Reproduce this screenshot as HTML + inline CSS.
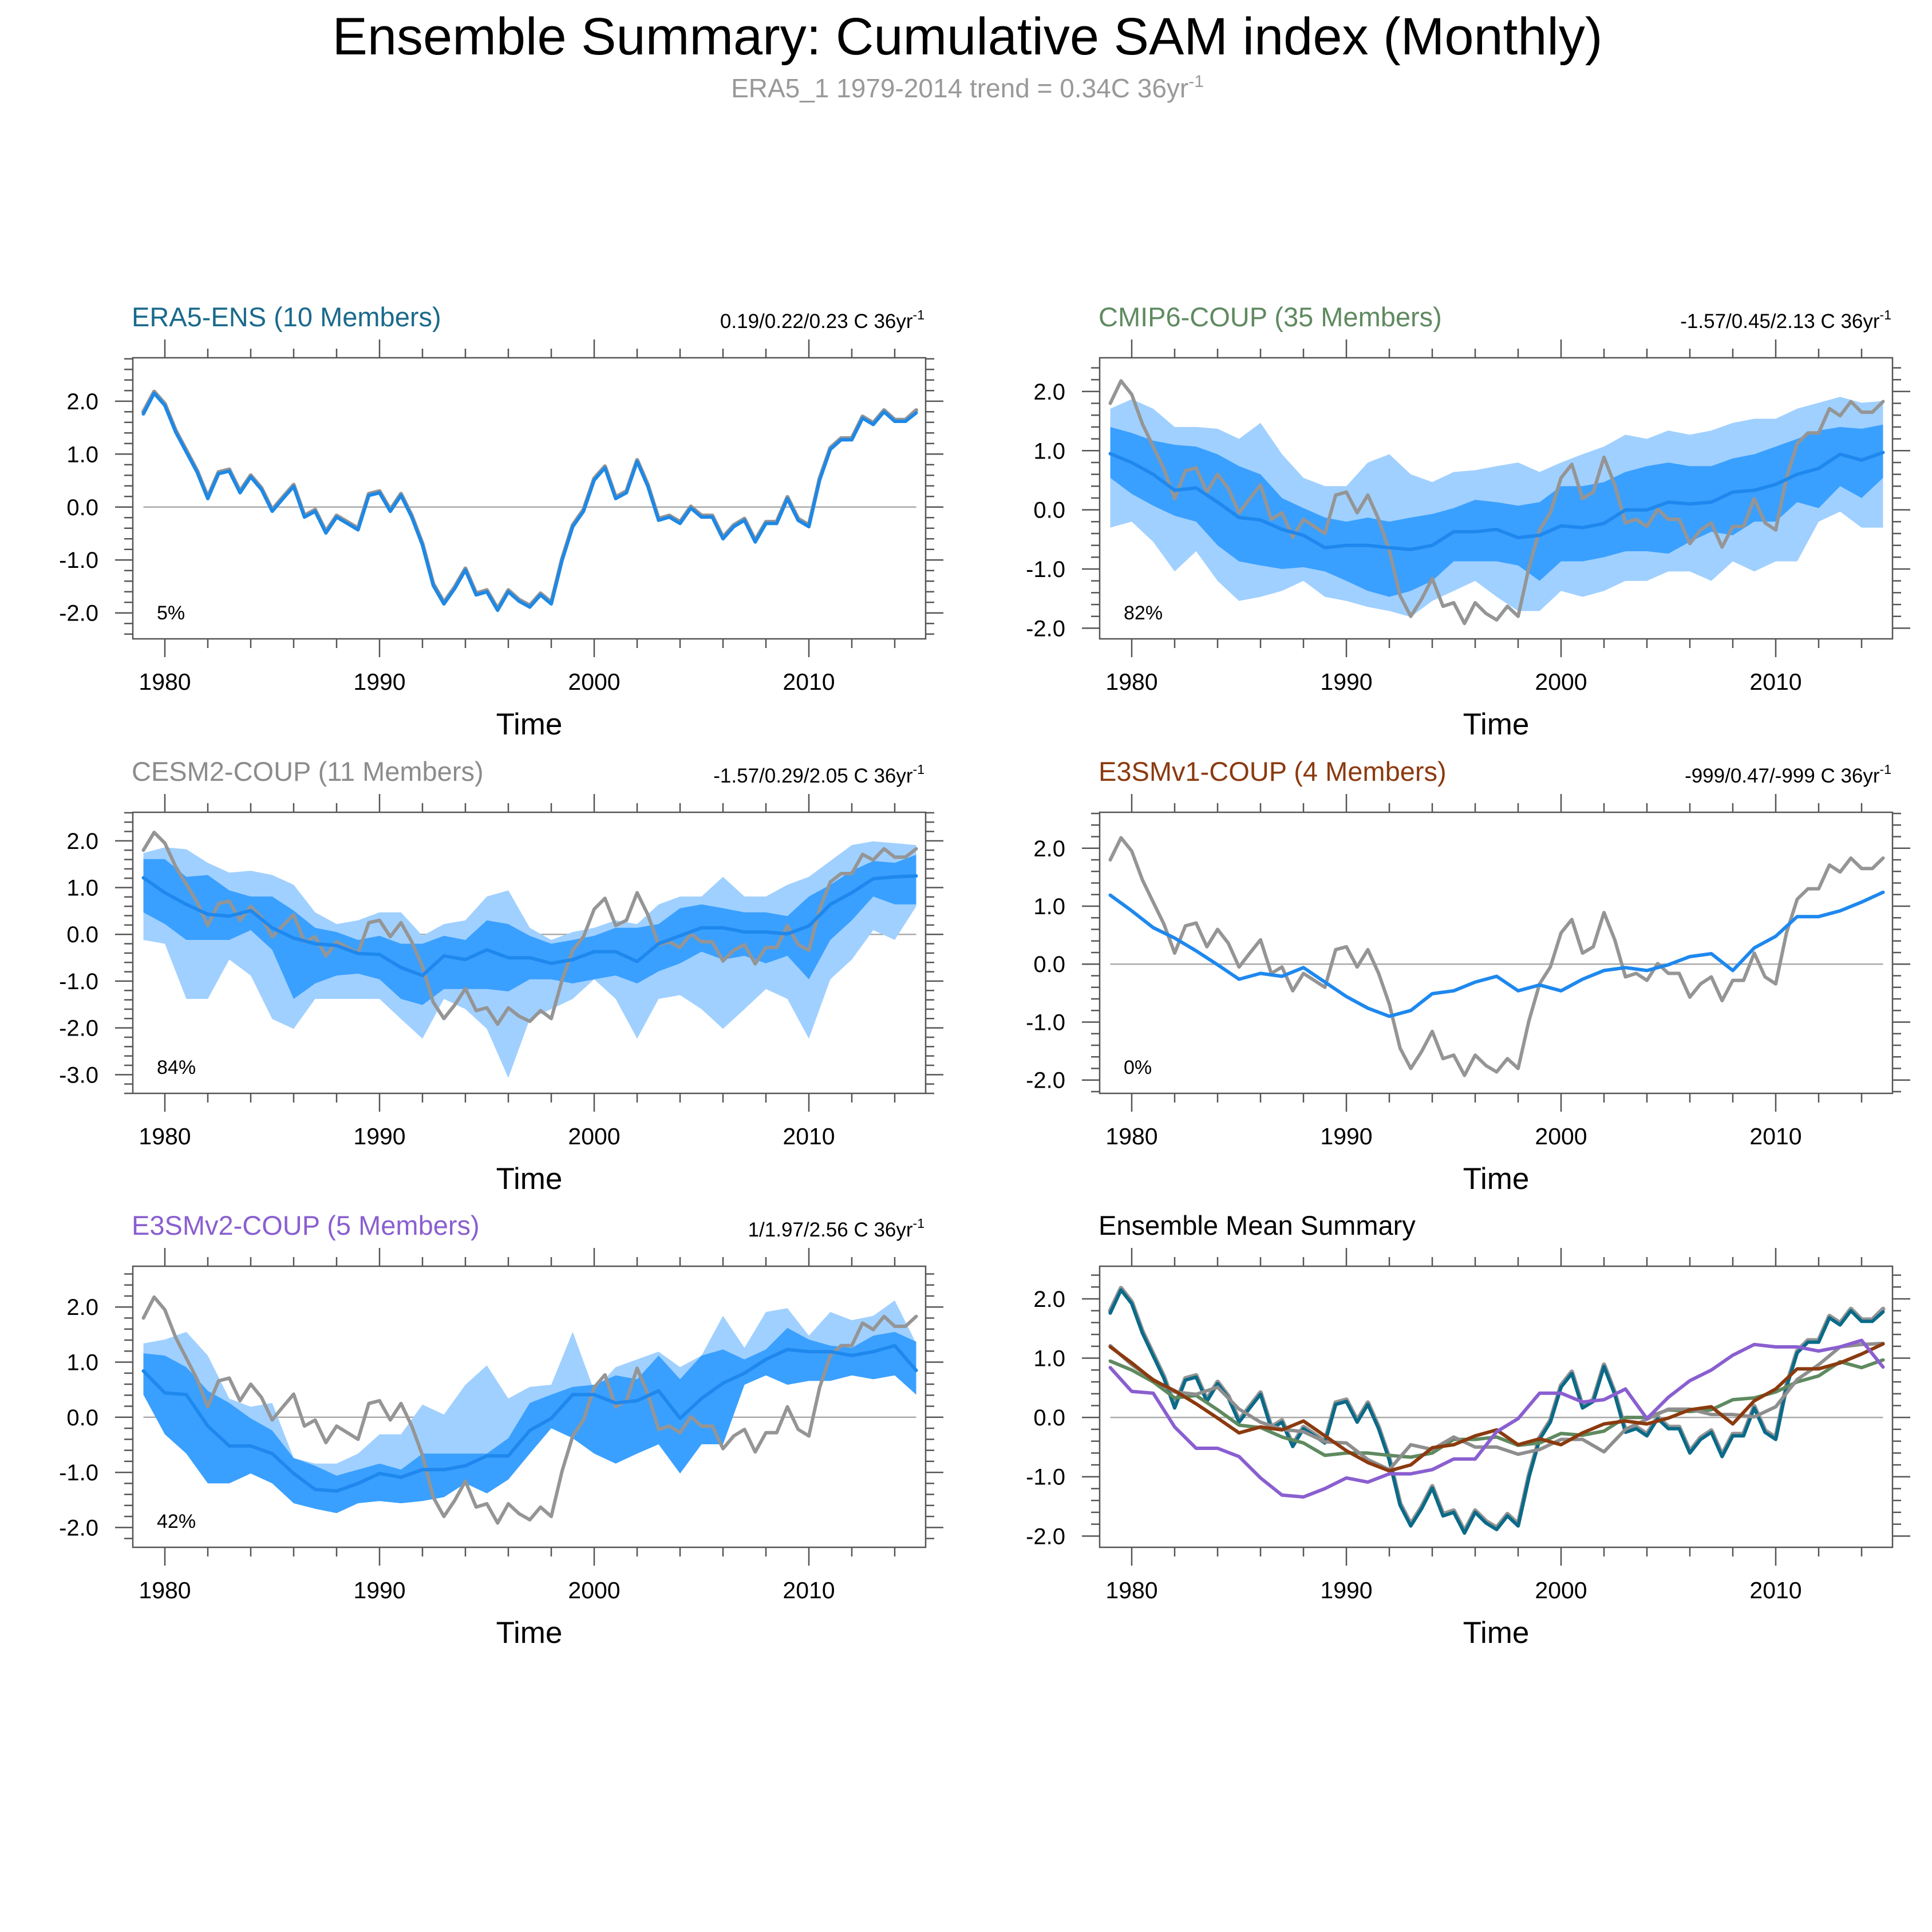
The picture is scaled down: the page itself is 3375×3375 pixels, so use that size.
<!DOCTYPE html>
<html><head><meta charset="utf-8">
<style>
html,body{margin:0;padding:0;background:#fff;}
svg{display:block;font-family:"Liberation Sans",sans-serif;}
</style></head>
<body>
<svg id="chart" xmlns="http://www.w3.org/2000/svg" width="3375" height="3375" viewBox="0 0 3375 3375">
<rect x="0" y="0" width="3375" height="3375" fill="#fff"/>
<text x="1690" y="95" font-size="92" text-anchor="middle" fill="#000">Ensemble Summary: Cumulative SAM index (Monthly)</text>
<text x="1690" y="170" font-size="46" text-anchor="middle" fill="#999">ERA5_1 1979-2014 trend = 0.34C 36yr<tspan dy="-18" font-size="30">-1</tspan></text>
</svg>
<script>
// ---- data ----
const obsHalf = [1.80,2.18,1.95,1.45,1.07,0.69,0.19,0.66,0.71,0.30,0.60,0.36,-0.05,0.19,0.42,-0.16,-0.05,-0.46,-0.16,-0.28,-0.40,0.25,0.30,-0.05,0.25,-0.16,-0.69,-1.45,-1.80,-1.51,-1.16,-1.63,-1.57,-1.92,-1.57,-1.75,-1.86,-1.63,-1.80,-0.98,-0.34,-0.05,0.54,0.77,0.19,0.30,0.89,0.42,-0.22,-0.16,-0.28,0.01,-0.16,-0.16,-0.57,-0.34,-0.22,-0.63,-0.28,-0.28,0.19,-0.22,-0.34,0.54,1.12,1.30,1.30,1.71,1.59,1.83,1.65,1.65,1.83];
const era5Half = [1.76,2.15,1.92,1.42,1.04,0.66,0.16,0.63,0.68,0.27,0.57,0.33,-0.08,0.16,0.39,-0.19,-0.08,-0.49,-0.19,-0.31,-0.43,0.22,0.27,-0.08,0.22,-0.19,-0.72,-1.48,-1.83,-1.54,-1.19,-1.66,-1.60,-1.95,-1.60,-1.78,-1.89,-1.66,-1.83,-1.01,-0.37,-0.08,0.51,0.74,0.16,0.27,0.86,0.39,-0.25,-0.19,-0.31,-0.02,-0.19,-0.19,-0.60,-0.37,-0.25,-0.66,-0.31,-0.31,0.16,-0.25,-0.37,0.51,1.09,1.27,1.27,1.68,1.56,1.80,1.62,1.62,1.78];

const cmipMean = [0.95,0.80,0.60,0.33,0.37,0.13,-0.13,-0.17,-0.33,-0.43,-0.64,-0.60,-0.60,-0.64,-0.67,-0.60,-0.37,-0.37,-0.33,-0.47,-0.43,-0.27,-0.30,-0.23,0.0,0.0,0.13,0.10,0.13,0.30,0.33,0.43,0.60,0.70,0.94,0.84,0.97];
const cmipDarkHi = [1.40,1.30,1.17,1.10,1.07,0.94,0.74,0.60,0.20,0.03,-0.13,-0.20,-0.13,-0.20,-0.13,-0.07,0.03,0.17,0.13,0.07,0.13,0.40,0.40,0.47,0.64,0.74,0.80,0.74,0.74,0.87,0.94,1.07,1.20,1.34,1.40,1.37,1.44];
const cmipDarkLo = [0.54,0.27,0.07,-0.10,-0.20,-0.60,-0.87,-0.94,-1.00,-0.97,-1.04,-1.20,-1.37,-1.47,-1.37,-1.20,-0.87,-0.87,-0.87,-0.94,-1.20,-0.87,-0.87,-0.80,-0.70,-0.70,-0.74,-0.54,-0.37,-0.43,-0.20,-0.20,0.13,0.03,0.40,0.20,0.54];
const cmipLightHi = [1.71,1.87,1.71,1.40,1.40,1.37,1.20,1.47,0.94,0.54,0.40,0.40,0.80,0.94,0.60,0.47,0.64,0.67,0.74,0.80,0.64,0.80,0.94,1.07,1.27,1.20,1.34,1.27,1.34,1.47,1.54,1.54,1.71,1.81,1.91,1.81,1.84];
const cmipLightLo = [-0.30,-0.20,-0.54,-1.04,-0.70,-1.20,-1.54,-1.47,-1.37,-1.20,-1.47,-1.54,-1.64,-1.71,-1.81,-1.54,-1.37,-1.20,-1.47,-1.71,-1.71,-1.37,-1.47,-1.37,-1.20,-1.20,-1.04,-1.04,-1.20,-0.87,-1.04,-0.87,-0.87,-0.20,-0.03,-0.30,-0.30];

const cesmMean = [1.21,0.89,0.64,0.43,0.39,0.51,0.14,-0.08,-0.20,-0.24,-0.41,-0.43,-0.71,-0.88,-0.46,-0.54,-0.33,-0.50,-0.50,-0.62,-0.54,-0.37,-0.37,-0.58,-0.20,-0.03,0.14,0.14,0.05,0.05,0.01,0.18,0.64,0.89,1.19,1.23,1.25];
const cesmDarkHi = [1.61,1.61,1.23,1.27,0.94,0.81,0.81,0.51,0.14,0.05,-0.12,-0.03,-0.20,-0.20,-0.03,-0.12,0.30,0.22,-0.03,-0.20,-0.12,-0.03,0.14,0.14,0.22,0.56,0.64,0.56,0.47,0.47,0.39,0.81,1.06,1.36,1.57,1.53,1.70];
const cesmDarkLo = [0.47,0.22,-0.12,-0.12,-0.12,0.09,-0.33,-1.38,-1.05,-0.88,-0.84,-0.96,-1.38,-1.51,-1.17,-1.17,-1.17,-1.22,-0.96,-0.96,-1.05,-0.96,-0.88,-1.05,-0.79,-0.62,-0.37,-0.54,-0.46,-0.62,-0.46,-0.96,-0.12,0.30,0.81,0.64,0.64];
const cesmLightHi = [1.74,1.86,1.82,1.53,1.32,1.36,1.27,1.06,0.47,0.22,0.30,0.47,0.47,-0.03,0.22,0.30,0.81,0.94,0.14,-0.12,0.05,0.14,0.30,0.22,0.64,0.81,0.81,1.23,0.81,0.81,1.06,1.23,1.57,1.91,1.99,1.95,1.91];
const cesmLightLo = [-0.12,-0.20,-1.38,-1.38,-0.54,-0.88,-1.81,-2.02,-1.38,-1.38,-1.38,-1.38,-1.81,-2.23,-1.38,-1.60,-2.02,-3.07,-1.81,-1.60,-1.38,-0.96,-1.38,-2.23,-1.38,-1.30,-1.60,-2.02,-1.60,-1.17,-1.38,-2.23,-0.96,-0.54,0.09,-0.12,0.60];

const v1Mean = [1.19,0.92,0.63,0.45,0.23,-0.01,-0.26,-0.16,-0.21,-0.06,-0.31,-0.56,-0.76,-0.90,-0.80,-0.51,-0.46,-0.31,-0.21,-0.46,-0.36,-0.46,-0.26,-0.11,-0.06,-0.11,-0.01,0.13,0.18,-0.11,0.28,0.48,0.82,0.82,0.92,1.07,1.24];

const v2Mean = [0.84,0.44,0.41,-0.16,-0.52,-0.52,-0.66,-1.02,-1.31,-1.34,-1.20,-1.02,-1.09,-0.95,-0.95,-0.88,-0.70,-0.70,-0.24,-0.02,0.41,0.41,0.26,0.30,0.48,-0.02,0.34,0.62,0.80,1.05,1.23,1.19,1.19,1.12,1.19,1.30,0.85];
const v2DarkHi = [1.16,1.12,0.91,0.48,0.26,-0.02,-0.24,-0.74,-0.88,-1.06,-0.95,-0.84,-0.95,-0.66,-0.66,-0.66,-0.66,-0.38,0.26,0.41,0.55,0.59,0.76,0.69,1.12,0.69,1.12,1.23,1.05,1.23,1.62,1.41,1.30,1.26,1.48,1.55,1.37];
const v2DarkLo = [0.41,-0.31,-0.66,-1.20,-1.20,-1.02,-1.20,-1.56,-1.66,-1.74,-1.56,-1.52,-1.56,-1.52,-1.45,-1.20,-1.38,-1.13,-0.66,-0.20,-0.38,-0.66,-0.84,-0.66,-0.49,-1.02,-0.49,-0.49,0.59,0.76,0.59,0.66,0.66,0.76,0.69,0.76,0.41];
const v2LightHi = [1.34,1.41,1.55,1.12,0.34,0.19,0.26,-0.74,-0.84,-0.84,-0.66,-0.31,-0.31,0.23,0.05,0.59,0.94,0.34,0.55,0.59,1.55,0.48,0.91,1.05,1.19,0.91,1.12,1.84,1.26,1.91,1.98,1.48,1.91,1.76,1.84,2.12,1.34];

const xTickYears = [1980,1990,2000,2010];
const percents = ["5%","82%","84%","0%","42%",""];

// ---- helpers ----
const NS = "http://www.w3.org/2000/svg";
const svg = document.getElementById("chart");
function el(tag, attrs, parent){
  const e = document.createElementNS(NS, tag);
  for (const k in attrs) e.setAttribute(k, attrs[k]);
  (parent||svg).appendChild(e);
  return e;
}
const halfYears = []; for (let i=0;i<obsHalf.length;i++) halfYears.push(1979+i*0.5);
const fullYears = []; for (let i=0;i<cmipMean.length;i++) fullYears.push(1979+i);

const BOXW = 1385, BOXH = 491;
const colX = [232, 1921];
const rowY = [625, 1419, 2212];

function makeAxes(px, py, ymin, ymax){
  const xs = y => px + 18.5 + (y-1979)*37.5;
  const ys = v => py + (ymax - v)/(ymax-ymin)*BOXH;
  return {xs, ys};
}
function pathFrom(xsArr, vals, ax){
  let d = "";
  for (let i=0;i<vals.length;i++) d += (i?"L":"M") + ax.xs(xsArr[i]).toFixed(1) + "," + ax.ys(vals[i]).toFixed(1);
  return d;
}
function bandFrom(xsArr, hi, lo, ax){
  let d = "";
  for (let i=0;i<hi.length;i++) d += (i?"L":"M") + ax.xs(xsArr[i]).toFixed(1) + "," + ax.ys(hi[i]).toFixed(1);
  for (let i=lo.length-1;i>=0;i--) d += "L" + ax.xs(xsArr[i]).toFixed(1) + "," + ax.ys(lo[i]).toFixed(1);
  return d + "Z";
}

function panel(idx, col, row, ymin, ymax, title, titleColor, rightText, drawFn){
  const px = colX[col], py = rowY[row];
  const ax = makeAxes(px, py, ymin, ymax);
  const g = el("g", {});
  
  
  const zl = el("line", {x1:ax.xs(1979), x2:ax.xs(2015), y1:ax.ys(0), y2:ax.ys(0), stroke:"#aaa", "stroke-width":2.5}, g);
  
  
  drawFn(g, ax);
  const box = el("rect", {x:px, y:py, width:BOXW, height:BOXH, fill:"none", stroke:"#555", "stroke-width":2.5}, g);
  
  
  const yt = el("g", {stroke:"#555","stroke-width":2.5}, g);
  
  
  for (let k=Math.ceil(ymin*5); k<=Math.floor(ymax*5); k++){
    const v = k/5, y = ax.ys(v), major = (k%5===0), L = major?31:15;
    el("line",{x1:px-L,x2:px,y1:y,y2:y},yt);
    el("line",{x1:px+BOXW,x2:px+BOXW+L,y1:y,y2:y},yt);
    if (major){
      const t = el("text",{x:px-60,y:y+14,"font-size":40,"text-anchor":"end",fill:"#000",stroke:"none"},g);
      
      
      t.textContent = v.toFixed(1);
    }
  }
  const xt = el("g", {stroke:"#555","stroke-width":2.5}, g);
  
  
  for (let yr=1980; yr<=2014; yr+=2){
    const x = ax.xs(yr), major = (yr%10===0), L = major?32:16;
    el("line",{x1:x,x2:x,y1:py-L,y2:py},xt);
    el("line",{x1:x,x2:x,y1:py+BOXH,y2:py+BOXH+L},xt);
  }
  xTickYears.forEach(yr=>{
    const t = el("text",{x:ax.xs(yr),y:py+580,"font-size":41,"text-anchor":"middle",fill:"#000"},g);
    
    
    t.textContent = yr;
  });
  const xl = el("text",{x:px+BOXW/2,y:py+658,"font-size":53,"text-anchor":"middle",fill:"#000"},g);
  
  
  xl.textContent = "Time";
  const tt = el("text",{x:px-2,y:py-55,"font-size":47,fill:titleColor},g);
  
  
  tt.textContent = title;
  if (rightText){
    const rt = el("text",{x:px+BOXW-2,y:py-52,"font-size":35,"text-anchor":"end",fill:"#000"},g);
    
    
    rt.appendChild(document.createTextNode(rightText + " 36yr"));
    const sup = el("tspan",{dy:-15,"font-size":23},rt);
    sup.textContent = "-1";
  }
  if (percents[idx]){
    const pt = el("text",{x:px+42,y:py+BOXH-34,"font-size":34,fill:"#000"},g);
    
    
    pt.textContent = percents[idx];
  }
}

function line(g, ax, xsArr, vals, color, w, name){
  const p = el("path",{d:pathFrom(xsArr, vals, ax),fill:"none",stroke:color,"stroke-width":w,"stroke-linejoin":"round","stroke-linecap":"round"},g);
  
  
}
function band(g, ax, hi, lo, color, name){
  const p = el("path",{d:bandFrom(fullYears, hi, lo, ax),fill:color,stroke:"none"},g);
  
  
}
const LIGHT="#a0d0ff", DARK="#3aa0ff", MEANC="#1e88ee", OBSC="#959595";

panel(0,0,0,-2.49,2.82,"ERA5-ENS (10 Members)","#1a6a8c","0.19/0.22/0.23 C",(g,ax)=>{
  line(g,ax,halfYears,obsHalf,OBSC,7,"observed-line");
  line(g,ax,halfYears,era5Half,"#1e88e5",6,"ensemble-mean-line");
});
panel(1,1,0,-2.18,2.57,"CMIP6-COUP (35 Members)","#5f8a60","-1.57/0.45/2.13 C",(g,ax)=>{
  band(g,ax,cmipLightHi,cmipLightLo,LIGHT,"outer-spread-band");
  band(g,ax,cmipDarkHi,cmipDarkLo,DARK,"inner-spread-band");
  line(g,ax,halfYears,obsHalf,OBSC,6,"observed-line");
  line(g,ax,fullYears,cmipMean,MEANC,6,"ensemble-mean-line");
});
panel(2,0,1,-3.40,2.61,"CESM2-COUP (11 Members)","#8c8c8c","-1.57/0.29/2.05 C",(g,ax)=>{
  band(g,ax,cesmLightHi,cesmLightLo,LIGHT,"outer-spread-band");
  band(g,ax,cesmDarkHi,cesmDarkLo,DARK,"inner-spread-band");
  line(g,ax,halfYears,obsHalf,OBSC,6,"observed-line");
  line(g,ax,fullYears,cesmMean,MEANC,6,"ensemble-mean-line");
});
panel(3,1,1,-2.23,2.62,"E3SMv1-COUP (4 Members)","#8b3a0f","-999/0.47/-999 C",(g,ax)=>{
  line(g,ax,halfYears,obsHalf,OBSC,6,"observed-line");
  line(g,ax,fullYears,v1Mean,"#1e88ee",6,"ensemble-mean-line");
});
panel(4,0,2,-2.36,2.74,"E3SMv2-COUP (5 Members)","#8a5fd0","1/1.97/2.56 C",(g,ax)=>{
  band(g,ax,v2LightHi,v2DarkLo,LIGHT,"outer-spread-band");
  band(g,ax,v2DarkHi,v2DarkLo,DARK,"inner-spread-band");
  line(g,ax,halfYears,obsHalf,OBSC,6,"observed-line");
  line(g,ax,fullYears,v2Mean,MEANC,6,"ensemble-mean-line");
});
panel(5,1,2,-2.19,2.55,"Ensemble Mean Summary","#000","",(g,ax)=>{
  line(g,ax,halfYears,obsHalf,OBSC,8,"observed-line");
  line(g,ax,halfYears,era5Half,"#0a6a88",6,"era5-mean-line");
  line(g,ax,fullYears,cmipMean,"#5f8a60",6,"cmip6-mean-line");
  line(g,ax,fullYears,cesmMean,"#8e8e8e",6,"cesm2-mean-line");
  line(g,ax,fullYears,v1Mean,"#8b3a0f",6,"e3smv1-mean-line");
  line(g,ax,fullYears,v2Mean,"#8a5fd0",6,"e3smv2-mean-line");
});
</script>
</body></html>
